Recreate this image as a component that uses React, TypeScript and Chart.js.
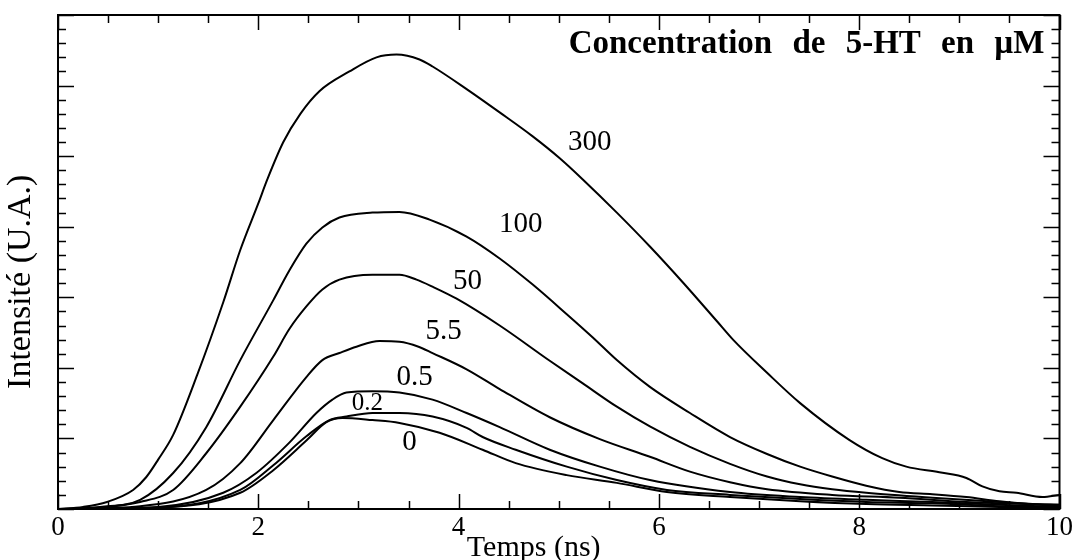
import { useEffect, useRef } from "react";
import { Chart, registerables } from "chart.js";

Chart.register(...registerables);

const FONT = "'Liberation Serif', 'Times New Roman', serif";

// Temps (ns) / Intensité (U.A.) for each 5-HT concentration (µM)
const t300 = [0, 0.25, 0.49, 0.75, 0.88, 1.0, 1.15, 1.39, 1.65, 1.82, 2.0, 2.09, 2.25, 2.42, 2.61, 2.91, 3.18, 3.38, 3.61, 3.74, 4.08, 4.41, 4.74, 5.01, 5.24, 5.58, 5.91, 6.24, 6.58, 6.74, 7.08, 7.41, 7.9, 8.23, 8.47, 8.8, 9.07, 9.23, 9.4, 9.57, 9.83, 10];
const i300 = [0, 0.03, 0.1, 0.27, 0.45, 0.7, 1.05, 1.9, 2.93, 3.67, 4.33, 4.67, 5.2, 5.6, 5.92, 6.2, 6.4, 6.44, 6.37, 6.27, 5.95, 5.62, 5.28, 4.97, 4.67, 4.2, 3.72, 3.21, 2.66, 2.4, 1.93, 1.5, 0.98, 0.72, 0.6, 0.52, 0.44, 0.32, 0.25, 0.23, 0.17, 0.2];

const t100 = [0, 0.42, 0.82, 1.15, 1.48, 1.82, 2.15, 2.31, 2.48, 2.64, 2.81, 3.14, 3.41, 3.71, 4.08, 4.41, 4.74, 5.08, 5.34, 5.58, 5.91, 6.31, 6.71, 7.08, 7.41, 7.73, 8.07, 8.4, 8.73, 9.07, 9.4, 9.73, 10];
const i100 = [0, 0.03, 0.13, 0.51, 1.16, 2.11, 2.96, 3.38, 3.76, 3.99, 4.13, 4.2, 4.21, 4.1, 3.86, 3.55, 3.18, 2.76, 2.43, 2.11, 1.73, 1.36, 1.02, 0.78, 0.6, 0.46, 0.33, 0.24, 0.21, 0.17, 0.11, 0.07, 0.06];

const t50 = [0, 0.42, 0.82, 1.15, 1.48, 1.82, 2.15, 2.31, 2.48, 2.64, 2.81, 3.14, 3.41, 3.58, 3.74, 3.98, 4.41, 4.91, 5.24, 5.58, 5.91, 6.31, 6.71, 7.08, 7.41, 7.73, 8.07, 8.73, 9.4, 10];
const i50 = [0, 0.02, 0.1, 0.27, 0.79, 1.45, 2.16, 2.55, 2.87, 3.11, 3.25, 3.32, 3.32, 3.25, 3.15, 2.98, 2.6, 2.1, 1.78, 1.45, 1.17, 0.88, 0.64, 0.46, 0.35, 0.28, 0.23, 0.16, 0.1, 0.04];

const t55 = [0, 0.82, 1.48, 1.82, 2.15, 2.48, 2.64, 2.81, 2.98, 3.21, 3.41, 3.6, 3.74, 4.08, 4.41, 4.91, 5.41, 5.91, 6.31, 6.71, 7.08, 7.73, 8.4, 9.07, 10];
const i55 = [0, 0.04, 0.27, 0.65, 1.26, 1.87, 2.11, 2.21, 2.3, 2.38, 2.37, 2.3, 2.21, 1.98, 1.7, 1.3, 0.99, 0.74, 0.53, 0.38, 0.28, 0.2, 0.16, 0.1, 0.06];

const t05 = [0, 1.0, 1.65, 1.98, 2.31, 2.58, 2.74, 2.88, 3.14, 3.41, 3.74, 4.08, 4.41, 4.91, 5.41, 5.91, 6.71, 7.41, 8.07, 8.73, 9.4, 10];
const i05 = [0, 0.03, 0.23, 0.51, 0.94, 1.36, 1.55, 1.65, 1.67, 1.65, 1.55, 1.36, 1.16, 0.84, 0.6, 0.41, 0.24, 0.17, 0.13, 0.1, 0.06, 0.03];

const t02 = [0, 1.0, 1.82, 2.15, 2.48, 2.71, 2.88, 3.14, 3.41, 3.74, 4.08, 4.24, 4.57, 5.08, 5.58, 6.08, 6.71, 7.41, 8.07, 8.73, 9.4, 10];
const i02 = [0, 0.02, 0.27, 0.62, 1.03, 1.26, 1.31, 1.36, 1.36, 1.31, 1.15, 1.02, 0.84, 0.6, 0.41, 0.27, 0.2, 0.14, 0.1, 0.08, 0.04, 0.02];

const t0 = [0, 1.0, 1.82, 2.15, 2.48, 2.68, 2.84, 3.14, 3.41, 3.81, 4.24, 4.57, 5.08, 5.58, 6.08, 6.71, 7.41, 8.07, 8.73, 9.4, 10];
const i0 = [0, 0.02, 0.23, 0.55, 0.97, 1.23, 1.29, 1.26, 1.22, 1.08, 0.84, 0.65, 0.48, 0.37, 0.24, 0.17, 0.11, 0.07, 0.05, 0.03, 0.01];

const seriesNames = ["300", "100", "50", "5.5", "0.5", "0.2", "0"];
const seriesT = [t300, t100, t50, t55, t05, t02, t0];
const seriesI = [i300, i100, i50, i55, i05, i02, i0];

// curve label anchors in data coordinates
const labelAtX = [5.31, 4.62, 4.09, 3.85, 3.56, 3.09, 3.51];
const labelAtY = [5.19, 4.03, 3.22, 2.51, 1.86, 1.49, 0.95];

const xTickValues = [0, 2, 4, 6, 8, 10];
const xTitle = "Temps (ns)";
const yTitle = "Intensité (U.A.)";
const boxTitle = "Concentration de 5-HT en µM";

export default function App() {
  const ref = useRef<HTMLCanvasElement>(null);

  useEffect(() => {
    if (!ref.current) return;
    const datasets = seriesNames.map((name, k) => ({
      label: name,
      data: seriesT[k].map((x, i) => ({ x, y: seriesI[k][i] })),
      borderColor: "#000",
      backgroundColor: "#000",
      borderWidth: 2,
      pointRadius: 0,
      showLine: true,
      fill: false,
      cubicInterpolationMode: "monotone" as const,
    }));

    const framePlugin = {
      id: "frame",
      afterDraw(chart: any) {
        const { ctx, chartArea: a, scales } = chart;
        const xs = scales.x;
        const ys = scales.y;
        ctx.save();
        ctx.strokeStyle = "#000";
        // ticks
        ctx.lineWidth = 1.5;
        ctx.beginPath();
        for (let k = 0; k <= 20; k++) {
          const v = k * 0.5;
          const px = Math.round(xs.getPixelForValue(v)) + 0.5;
          const len = k % 4 === 0 ? 15 : 8;
          ctx.moveTo(px, a.bottom);
          ctx.lineTo(px, a.bottom - len);
          ctx.moveTo(px, a.top);
          ctx.lineTo(px, a.top + len);
        }
        for (let k = 0; k <= 35; k++) {
          const v = k * 0.2;
          const py = Math.round(ys.getPixelForValue(v)) + 0.5;
          const len = k % 5 === 0 ? 16 : 8;
          ctx.moveTo(a.left, py);
          ctx.lineTo(a.left + len, py);
          ctx.moveTo(a.right, py);
          ctx.lineTo(a.right - len, py);
        }
        ctx.stroke();
        // box
        ctx.lineWidth = 2;
        ctx.strokeRect(a.left, a.top, a.right - a.left, a.bottom - a.top);

        ctx.fillStyle = "#000";
        // curve labels
        ctx.textAlign = "center";
        ctx.textBaseline = "middle";
        seriesNames.forEach((name, k) => {
          ctx.font = `${name === "0.2" ? 25 : 29}px ${FONT}`;
          ctx.fillText(name, xs.getPixelForValue(labelAtX[k]), ys.getPixelForValue(labelAtY[k]));
        });
        // box title
        ctx.font = `bold 33px ${FONT}`;
        ctx.textAlign = "right";
        (ctx as any).wordSpacing = "12px";
        ctx.fillText(boxTitle, xs.getPixelForValue(9.85), ys.getPixelForValue(6.58));
        (ctx as any).wordSpacing = "0px";
        // x title
        ctx.font = `30px ${FONT}`;
        ctx.textAlign = "center";
        ctx.fillText(xTitle, xs.getPixelForValue(4.75), a.bottom + 39);
        // y title
        ctx.font = `34px ${FONT}`;
        ctx.translate(21, ys.getPixelForValue(3.22));
        ctx.rotate(-Math.PI / 2);
        ctx.fillText(yTitle, 0, 0);
        ctx.restore();
      },
    };

    const chart = new Chart(ref.current, {
      type: "scatter",
      data: { datasets },
      options: {
        responsive: false,
        animation: false,
        layout: { padding: { top: 15, right: 16, left: 0, bottom: 0 } },
        plugins: { legend: { display: false }, tooltip: { enabled: false } },
        scales: {
          x: {
            type: "linear",
            min: 0,
            max: 10,
            afterBuildTicks: (s: any) => {
              s.ticks = xTickValues.map((v) => ({ value: v }));
            },
            afterFit: (s: any) => {
              s.height = 51;
            },
            grid: { display: false, drawTicks: false },
            border: { display: false },
            ticks: {
              color: "#000",
              padding: 3,
              maxRotation: 0,
              autoSkip: false,
              font: { family: FONT, size: 27 },
            },
          },
          y: {
            type: "linear",
            min: 0,
            max: 7,
            afterFit: (s: any) => {
              s.width = 58;
            },
            grid: { display: false, drawTicks: false },
            border: { display: false },
            ticks: { display: false },
          },
        },
      },
      plugins: [framePlugin],
    } as any);
    return () => chart.destroy();
  }, []);

  return (
    <div style={{ position: "fixed", left: 0, top: 0, width: 1076, height: 560, background: "#fff" }}>
      <canvas ref={ref} width={1076} height={560} />
    </div>
  );
}
